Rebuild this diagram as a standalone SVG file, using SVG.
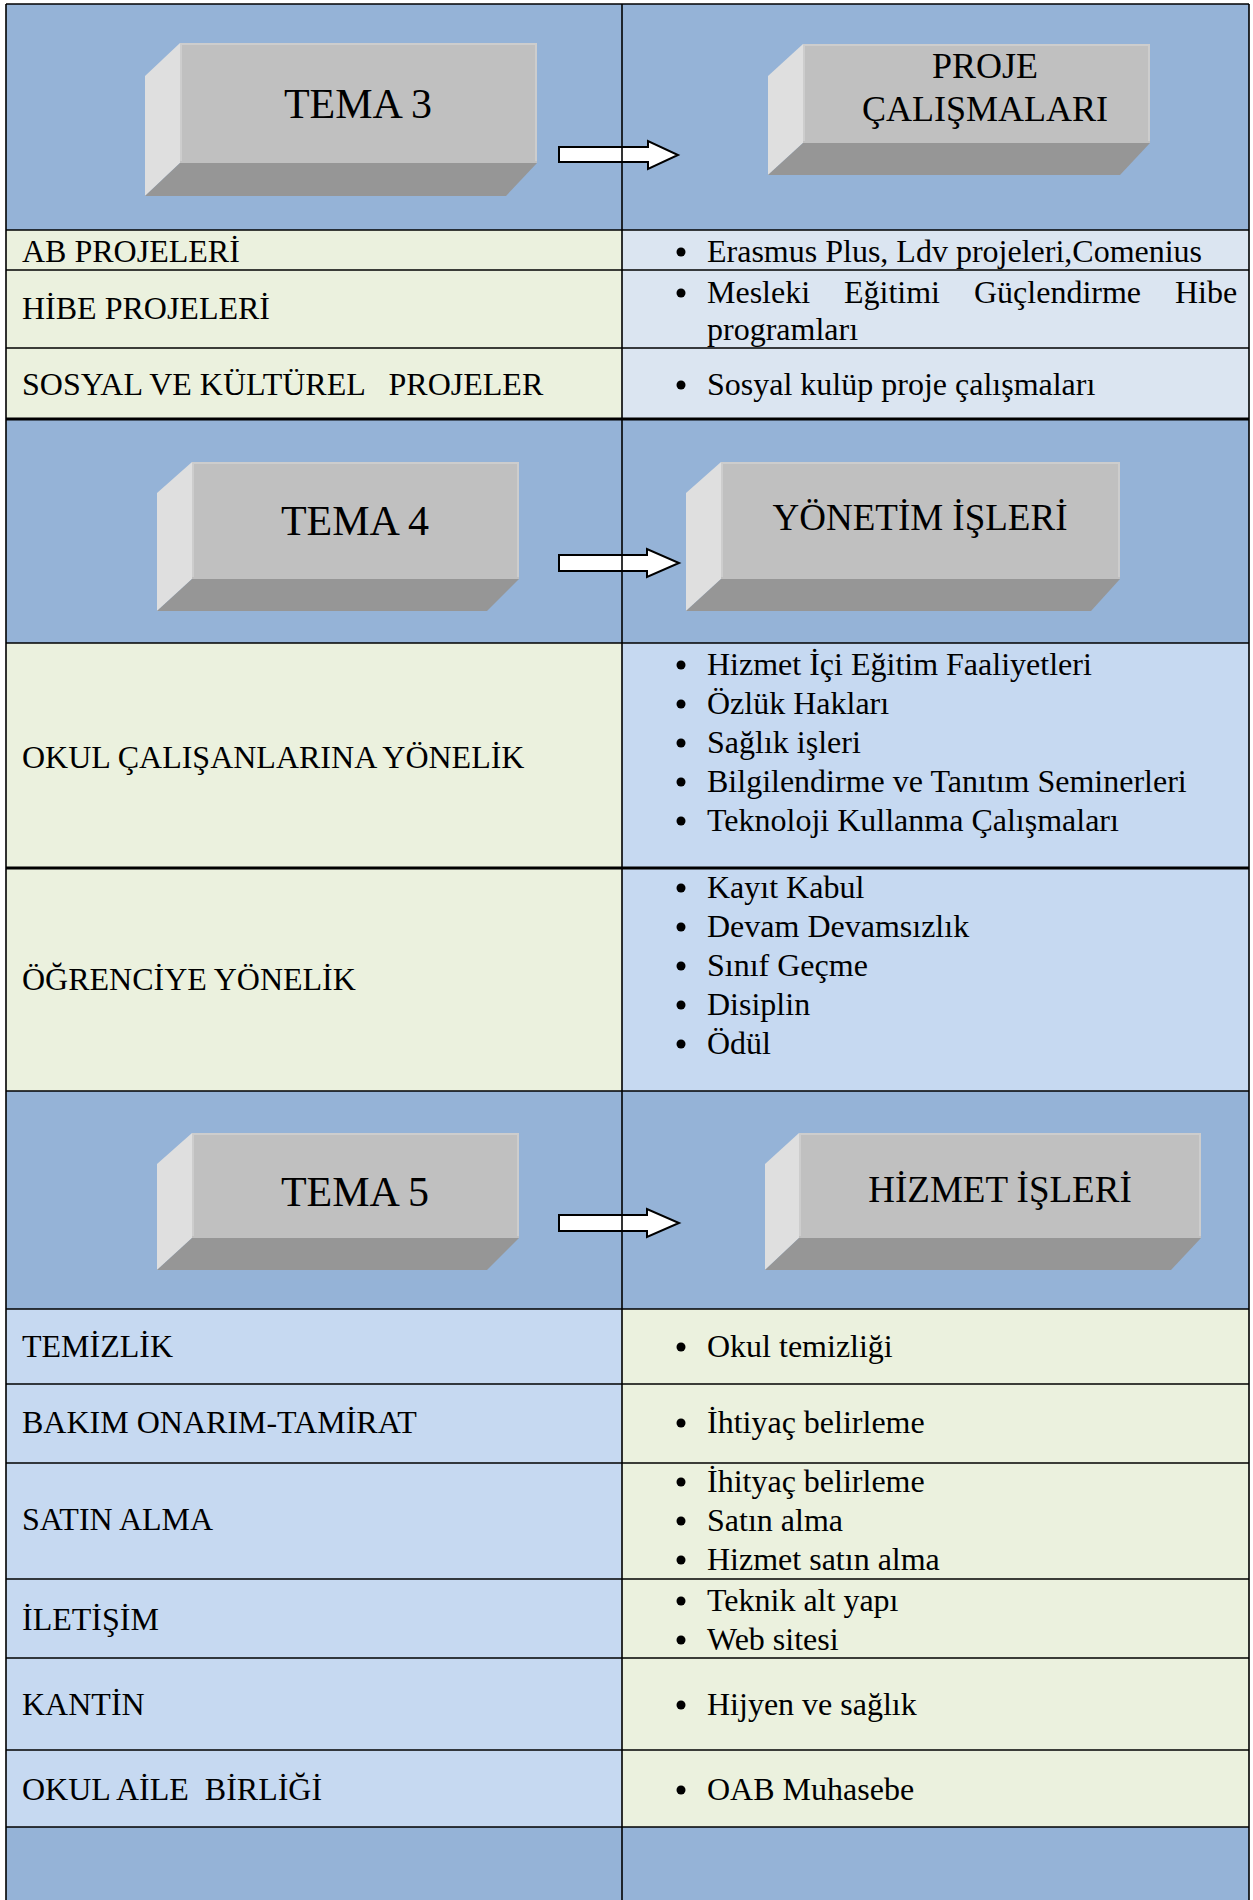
<svg xmlns="http://www.w3.org/2000/svg" width="1253" height="1900" viewBox="0 0 1253 1900">
<style>
text{font-family:"Liberation Serif","Times New Roman",serif;fill:#000;white-space:pre}
.t{font-size:32px}
.h{font-size:42px;text-anchor:middle}
.h2{font-size:37px;text-anchor:middle}
.hb{fill:#95B3D7}
.gr{fill:#EBF1DE}
.lb{fill:#C6D9F1}
.xb{fill:#DBE5F1}
.front{fill:#C0C0C0}
.side{fill:#DFDFDF}
.bot{fill:#969696}
.bev{fill:none;stroke:#CDCDCD;stroke-width:2}
.ln{stroke:#000;stroke-width:1.6;fill:none}
.lnt{stroke:#000;stroke-width:3;fill:none}
.arr{fill:#fff;stroke:#000;stroke-width:2;stroke-linejoin:miter}
.bu{fill:#000}
</style>

<!-- backgrounds -->
<g id="backgrounds">
<rect class="hb" x="6" y="4" width="616" height="226"/>
<rect class="hb" x="622" y="4" width="627" height="226"/>
<rect class="gr" x="6" y="230" width="616" height="189"/>
<rect class="xb" x="622" y="230" width="627" height="189"/>
<rect class="hb" x="6" y="419" width="616" height="224"/>
<rect class="hb" x="622" y="419" width="627" height="224"/>
<rect class="gr" x="6" y="643" width="616" height="448"/>
<rect class="lb" x="622" y="643" width="627" height="448"/>
<rect class="hb" x="6" y="1091" width="616" height="218"/>
<rect class="hb" x="622" y="1091" width="627" height="218"/>
<rect class="lb" x="6" y="1309" width="616" height="518"/>
<rect class="gr" x="622" y="1309" width="627" height="518"/>
<rect class="hb" x="6" y="1827" width="616" height="80"/>
<rect class="hb" x="622" y="1827" width="627" height="80"/>
</g>

<!-- 3D boxes -->
<g id="tema3">
<polygon class="side" points="180,43 145,76 145,196 180,163"/>
<polygon class="bot" points="180,163 537,163 506,196 145,196"/>
<rect class="front" x="180" y="43" width="357" height="120"/>
<polyline class="bev" points="181,161 181,44 536,44 536,161"/>
<text class="h" x="358" y="118">TEMA 3</text>
</g>
<g id="proje">
<polygon class="side" points="803,44 768,76 768,175 803,143"/>
<polygon class="bot" points="803,143 1150,143 1120,175 768,175"/>
<rect class="front" x="803" y="44" width="347" height="99"/>
<polyline class="bev" points="804,141 804,45 1149,45 1149,141"/>
<text class="h2" x="985" y="78" style="font-size:36px">PROJE</text>
<text class="h2" x="985" y="121" style="font-size:36px">ÇALIŞMALARI</text>
</g>
<g id="tema4">
<polygon class="side" points="192,462 157,493 157,611 192,579"/>
<polygon class="bot" points="192,579 519,579 487,611 157,611"/>
<rect class="front" x="192" y="462" width="327" height="117"/>
<polyline class="bev" points="193,577 193,463 518,463 518,577"/>
<text class="h" x="355" y="535">TEMA 4</text>
</g>
<g id="yonetim">
<polygon class="side" points="721,462 686,493 686,611 721,579"/>
<polygon class="bot" points="721,579 1120,579 1091,611 686,611"/>
<rect class="front" x="721" y="462" width="399" height="117"/>
<polyline class="bev" points="722,577 722,463 1119,463 1119,577"/>
<text class="h2" x="920" y="530">YÖNETİM İŞLERİ</text>
</g>
<g id="tema5">
<polygon class="side" points="192,1133 157,1164 157,1270 192,1238"/>
<polygon class="bot" points="192,1238 519,1238 487,1270 157,1270"/>
<rect class="front" x="192" y="1133" width="327" height="105"/>
<polyline class="bev" points="193,1236 193,1134 518,1134 518,1236"/>
<text class="h" x="355" y="1206">TEMA 5</text>
</g>
<g id="hizmet">
<polygon class="side" points="799,1133 765,1164 765,1270 799,1238"/>
<polygon class="bot" points="799,1238 1201,1238 1171,1270 765,1270"/>
<rect class="front" x="799" y="1133" width="402" height="105"/>
<polyline class="bev" points="800,1236 800,1134 1200,1134 1200,1236"/>
<text class="h2" x="1000" y="1202">HİZMET İŞLERİ</text>
</g>

<!-- connectors -->
<g id="connectors">
<polygon class="arr" points="559,147 648,147 648,141 678,155 648,169 648,162 559,162"/>
<polygon class="arr" points="559,555 647,555 647,549 679,563 647,577 647,571 559,571"/>
<polygon class="arr" points="559,1215 647,1215 647,1209 679,1223 647,1237 647,1231 559,1231"/>
</g>

<!-- grid lines (drawn over the arrows, as in the reference) -->
<g id="grid">
<line class="ln" x1="6" y1="4" x2="1249" y2="4"/>
<line class="ln" x1="6" y1="4" x2="6" y2="1900"/>
<line class="ln" x1="1249" y1="4" x2="1249" y2="1900"/>
<line class="ln" x1="622" y1="4" x2="622" y2="1900"/>
<line class="ln" x1="6" y1="230" x2="1249" y2="230"/>
<line class="ln" x1="6" y1="270" x2="1249" y2="270"/>
<line class="ln" x1="6" y1="348" x2="1249" y2="348"/>
<line class="lnt" x1="6" y1="419" x2="1249" y2="419"/>
<line class="ln" x1="6" y1="643" x2="1249" y2="643"/>
<line class="lnt" x1="6" y1="868" x2="1249" y2="868"/>
<line class="ln" x1="6" y1="1091" x2="1249" y2="1091"/>
<line class="ln" x1="6" y1="1309" x2="1249" y2="1309"/>
<line class="ln" x1="6" y1="1384" x2="1249" y2="1384"/>
<line class="ln" x1="6" y1="1463" x2="1249" y2="1463"/>
<line class="ln" x1="6" y1="1579" x2="1249" y2="1579"/>
<line class="ln" x1="6" y1="1658" x2="1249" y2="1658"/>
<line class="ln" x1="6" y1="1750" x2="1249" y2="1750"/>
<line class="ln" x1="6" y1="1827" x2="1249" y2="1827"/>
</g>

<!-- Tema 3 rows -->
<g id="ab-projeleri">
<text class="t" x="22" y="262">AB PROJELERİ</text>
<circle class="bu" cx="681" cy="252" r="4.5"/>
<text class="t" x="707" y="262">Erasmus Plus, Ldv projeleri,Comenius</text>
</g>
<g id="hibe-projeleri">
<text class="t" x="22" y="319">HİBE PROJELERİ</text>
<circle class="bu" cx="681" cy="293" r="4.5"/>
<text class="t" x="707" y="303">Mesleki</text>
<text class="t" x="844" y="303">Eğitimi</text>
<text class="t" x="974" y="303">Güçlendirme</text>
<text class="t" x="1175" y="303">Hibe</text>
<text class="t" x="707" y="340">programları</text>
</g>
<g id="sosyal-projeler">
<text class="t" x="22" y="395">SOSYAL VE KÜLTÜREL   PROJELER</text>
<circle class="bu" cx="681" cy="385" r="4.5"/>
<text class="t" x="707" y="395">Sosyal kulüp proje çalışmaları</text>
</g>

<!-- Tema 4 rows -->
<g id="okul-calisanlari">
<text class="t" x="22" y="768">OKUL ÇALIŞANLARINA YÖNELİK</text>
<circle class="bu" cx="681" cy="665" r="4.5"/>
<text class="t" x="707" y="675">Hizmet İçi Eğitim Faaliyetleri</text>
<circle class="bu" cx="681" cy="704" r="4.5"/>
<text class="t" x="707" y="714">Özlük Hakları</text>
<circle class="bu" cx="681" cy="743" r="4.5"/>
<text class="t" x="707" y="753">Sağlık işleri</text>
<circle class="bu" cx="681" cy="782" r="4.5"/>
<text class="t" x="707" y="792">Bilgilendirme ve Tanıtım Seminerleri</text>
<circle class="bu" cx="681" cy="821" r="4.5"/>
<text class="t" x="707" y="831">Teknoloji Kullanma Çalışmaları</text>
</g>
<g id="ogrenci">
<text class="t" x="22" y="990">ÖĞRENCİYE YÖNELİK</text>
<circle class="bu" cx="681" cy="888" r="4.5"/>
<text class="t" x="707" y="898">Kayıt Kabul</text>
<circle class="bu" cx="681" cy="927" r="4.5"/>
<text class="t" x="707" y="937">Devam Devamsızlık</text>
<circle class="bu" cx="681" cy="966" r="4.5"/>
<text class="t" x="707" y="976">Sınıf Geçme</text>
<circle class="bu" cx="681" cy="1005" r="4.5"/>
<text class="t" x="707" y="1015">Disiplin</text>
<circle class="bu" cx="681" cy="1044" r="4.5"/>
<text class="t" x="707" y="1054">Ödül</text>
</g>

<!-- Tema 5 rows -->
<g id="temizlik">
<text class="t" x="22" y="1357">TEMİZLİK</text>
<circle class="bu" cx="681" cy="1347" r="4.5"/>
<text class="t" x="707" y="1357">Okul temizliği</text>
</g>
<g id="bakim">
<text class="t" x="22" y="1433">BAKIM ONARIM-TAMİRAT</text>
<circle class="bu" cx="681" cy="1423" r="4.5"/>
<text class="t" x="707" y="1433">İhtiyaç belirleme</text>
</g>
<g id="satin-alma">
<text class="t" x="22" y="1530">SATIN ALMA</text>
<circle class="bu" cx="681" cy="1482" r="4.5"/>
<text class="t" x="707" y="1492">İhityaç belirleme</text>
<circle class="bu" cx="681" cy="1521" r="4.5"/>
<text class="t" x="707" y="1531">Satın alma</text>
<circle class="bu" cx="681" cy="1560" r="4.5"/>
<text class="t" x="707" y="1570">Hizmet satın alma</text>
</g>
<g id="iletisim">
<text class="t" x="22" y="1630">İLETİŞİM</text>
<circle class="bu" cx="681" cy="1601" r="4.5"/>
<text class="t" x="707" y="1611">Teknik alt yapı</text>
<circle class="bu" cx="681" cy="1640" r="4.5"/>
<text class="t" x="707" y="1650">Web sitesi</text>
</g>
<g id="kantin">
<text class="t" x="22" y="1715">KANTİN</text>
<circle class="bu" cx="681" cy="1705" r="4.5"/>
<text class="t" x="707" y="1715">Hijyen ve sağlık</text>
</g>
<g id="okul-aile">
<text class="t" x="22" y="1800">OKUL AİLE  BİRLİĞİ</text>
<circle class="bu" cx="681" cy="1790" r="4.5"/>
<text class="t" x="707" y="1800">OAB Muhasebe</text>
</g>
</svg>
